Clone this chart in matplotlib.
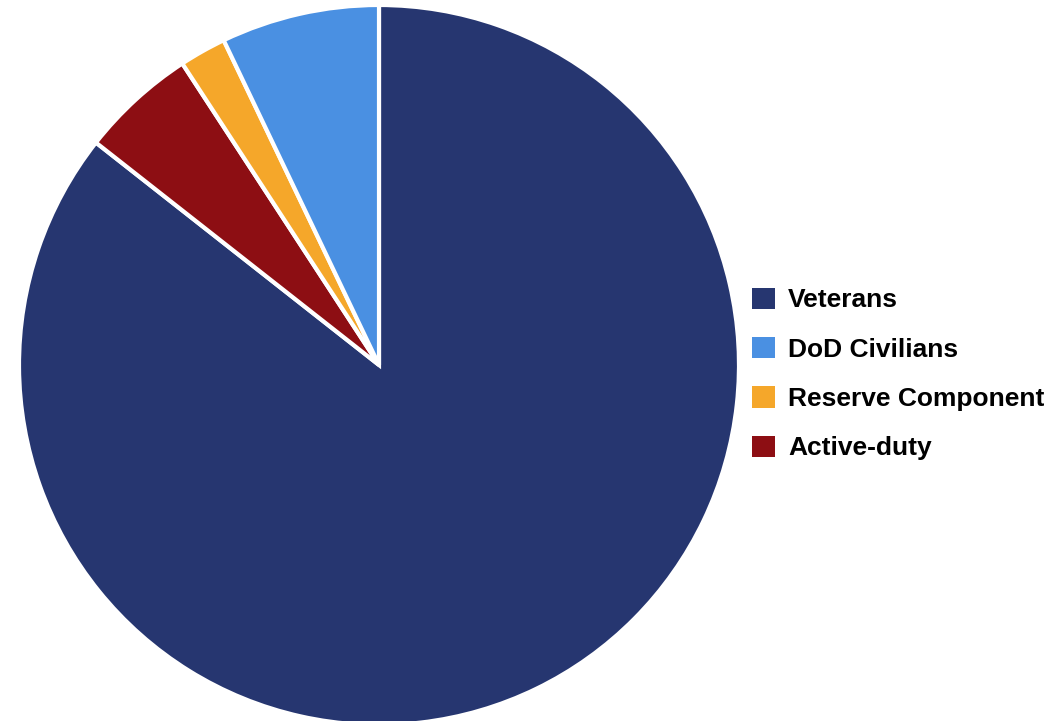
import matplotlib.pyplot as plt
from matplotlib.patches import Patch

plt.rcParams['font.family'] = ['Liberation Sans', 'DejaVu Sans']

# share of each group (percent), clockwise from top
labels = ['Veterans', 'Active-duty', 'Reserve Component', 'DoD Civilians']
values = [85.6, 5.2, 2.1, 7.1]
colors = ['#263670', '#8D0E13', '#F5A72A', '#4A90E2']

legend_order = ['Veterans', 'DoD Civilians', 'Reserve Component', 'Active-duty']

W, H = 1056, 721
fig = plt.figure(figsize=(W / 100, H / 100), dpi=100)

cx, cy, r = 379, 365, 360
ax = fig.add_axes([(cx - r) / W, (H - cy - r) / H, 2 * r / W, 2 * r / H])
ax.pie(values, colors=colors, startangle=90, counterclock=False,
       wedgeprops=dict(edgecolor='white', linewidth=3))
ax.set_xlim(-1, 1)
ax.set_ylim(-1, 1)
ax.set_aspect('equal')
ax.axis('off')

cmap = dict(zip(labels, colors))
handles = [Patch(facecolor=cmap[l], edgecolor='none', label=l) for l in legend_order]
fig.legend(handles=handles, loc='center left', bbox_to_anchor=(752 / W, 1 - 374 / H),
           frameon=False, prop={'weight': 'bold', 'size': 19},
           handlelength=0.87, handleheight=0.87, handletextpad=0.5,
           labelspacing=0.93, borderaxespad=0, borderpad=0)

fig.savefig('out.png', dpi=100)
